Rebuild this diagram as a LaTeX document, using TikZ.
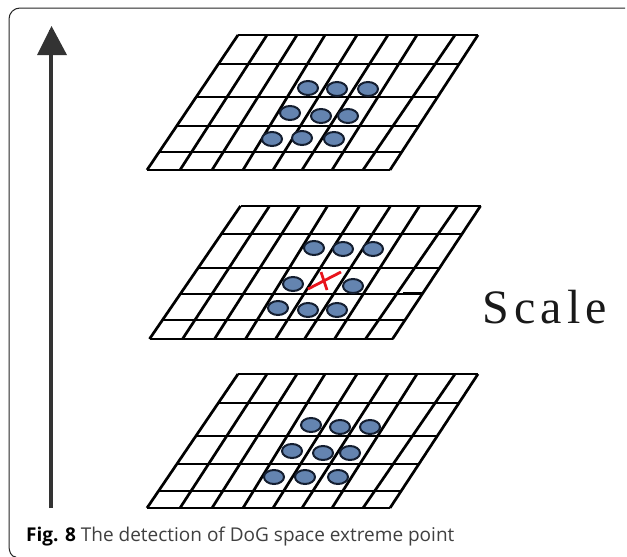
\documentclass[tikz,border=0pt]{standalone}
\usepackage{fontspec}
\setmainfont{Open Sans}
\newfontfamily\scalefont[LetterSpace=11]{Liberation Serif}
\usepackage{xcolor}
\usetikzlibrary{shapes.geometric}
\definecolor{dotblue}{HTML}{6484B0}
\definecolor{dotedge}{HTML}{141E30}
\definecolor{axisgray}{HTML}{333333}
\definecolor{crossred}{HTML}{E8141C}
\newcommand{\gridplane}[3]{%
    % #1 horizontal shift, #2 row lines y, #3 last row y
    \foreach \a/\b in {238/147,267/180,297/212,325/243,357/273,388/302,417/332,455/363,478/390} {
        \draw[gridline] (\a+#1,\gridtop) -- (\b+#1,#3);
    }
    \foreach \y in {#2} {
        \pgfmathsetmacro{\t}{(\y-\gridtop)/(#3-\gridtop)}
        \draw[gridline] (238+#1-91*\t,\y) -- (478+#1-88*\t,\y);
    }
}
\begin{document}
\begin{tikzpicture}[x=1pt,y=-1pt,
    gridline/.style={line width=2.7pt, black},
    blob/.style={draw=dotedge, line width=2pt, fill=dotblue, ellipse, minimum width=20pt, minimum height=14pt, inner sep=0pt},
    cross/.style={crossred, line width=2.8pt}]
    \useasboundingbox (0,0) rectangle (627,557);
    \fill[white] (0,0) rectangle (627,557);
    % frame
    \draw[line width=1pt, black!85] (625,8) -- (20,8) to[out=180,in=90] (9,19) -- (9,546) to[out=-90,in=180] (16,557);
    % scale axis
    \coordinate (axisbot) at (51,508);
    \coordinate (axistop) at (51,30);
    \draw[axisgray, line width=3.4pt] (axisbot) -- (axistop);
    \fill[axisgray] (51.5,26) -- (67,55) -- (37,55) -- cycle;
    % top plane
    \def\gridtop{35}
    \gridplane{0}{35,64,97,126,152,170}{170}
    % middle plane
    \def\gridtop{206}
    \gridplane{2.5}{206,234,268,294,320,339}{339}
    % bottom plane
    \def\gridtop{374}
    \gridplane{0}{374,403,436,464,491,508}{508}
    \foreach \p/\q [count=\i] in {308/88,337/89,368/89,290/113,321/116,348/116,272/139,302/138,334/139} {
        \node[blob] (ta\i) at (\p,\q) {};
    }
    \foreach \p/\q [count=\i] in {314/248,343/249,373/249,293/284,353/286,278/308,308/310,337/310} {
        \node[blob] (mb\i) at (\p,\q) {};
    }
    \foreach \p/\q [count=\i] in {311/425,340/427,370/427,292/451,323/453,350/453,274/477,305/477,338/477} {
        \node[blob] (bc\i) at (\p,\q) {};
    }
    % stub and red cross
    \draw[gridline] (403,293) -- (421,293) -- (421,296);
    \draw[cross] (308,289) -- (341,272);
    \draw[cross] (321,272) -- (327,290);
    \node[anchor=base west, inner sep=0pt, font=\scalefont\fontsize{48}{48}\selectfont, black!90] (scale) at (482,323) {Scale};
    \node[anchor=base west, inner sep=0pt, font=\fontsize{19}{22}\selectfont, text=black!75] (caption) at (26,541) {\textbf{\textcolor{black}{Fig. 8}} The detection of DoG space extreme point};
\end{tikzpicture}
\end{document}
